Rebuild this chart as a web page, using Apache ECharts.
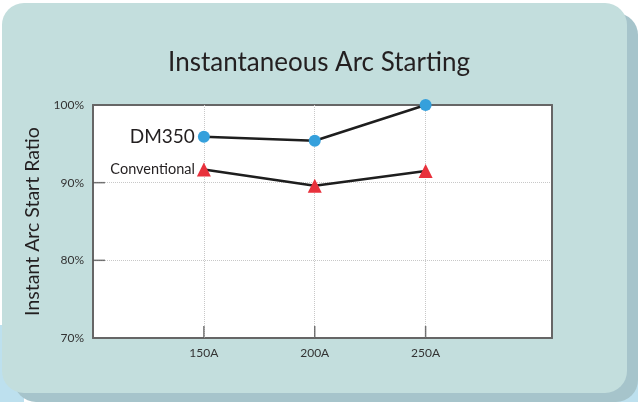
<!DOCTYPE html>
<html>
<head>
<meta charset="utf-8">
<script src="https://cdn.jsdelivr.net/npm/echarts@6/dist/echarts.min.js"></script>
<style>html,body{margin:0;padding:0;background:#fff}#c{width:638px;height:402px}</style>
</head>
<body>
<div id="c"></div>
<script>
const currents = [150, 200, 250];
const xTickLabels = ['150A', '200A', '250A'];
const dm350 = [95.9, 95.4, 100];
const conventional = [91.7, 89.6, 91.5];
const yTicks = [70, 80, 90, 100];
const xRange = [100, 307];

const chart = echarts.init(document.getElementById('c'), null, {renderer: 'canvas'});
const FONT = 'Lato';
function pts(vals) { return vals.map((v, i) => [currents[i], v]); }
const borderLine = {show: true, lineStyle: {color: '#666666', width: 2}};
const yMin = yTicks[0], yMax = yTicks[yTicks.length - 1];

chart.setOption({
  backgroundColor: '#ffffff',
  animation: false,
  graphic: [
    {type: 'rect', z: -10, shape: {x: 0, y: 325, width: 24, height: 77}, style: {fill: '#bde0ee'}},
    {type: 'rect', z: -10, shape: {x: 610, y: 380, width: 28, height: 22}, style: {fill: '#bde0ee'}},
    {type: 'rect', z: -9, shape: {x: 14, y: 13, width: 624, height: 389, r: 22}, style: {fill: '#a6c4cb'}},
    {type: 'rect', z: -8, shape: {x: 2, y: 3, width: 625, height: 390, r: 22}, style: {fill: '#c3dedd'}}
  ],
  title: {
    text: 'Instantaneous Arc Starting',
    left: 'center',
    top: 45,
    textStyle: {fontFamily: FONT, fontSize: 26, fontWeight: 'normal', color: '#231f20'}
  },
  grid: {left: 93, right: 86, top: 105, bottom: 64, show: false},
  xAxis: [{
    type: 'value', min: xRange[0], max: xRange[1],
    axisLine: borderLine,
    axisTick: {show: false},
    axisLabel: {
      customValues: currents, margin: 9, color: '#333', fontFamily: FONT, fontSize: 12,
      formatter: v => xTickLabels[currents.indexOf(v)] || ''
    },
    splitLine: {show: false}
  }, {
    type: 'value', min: xRange[0], max: xRange[1], position: 'top',
    axisLine: borderLine, axisTick: {show: false}, axisLabel: {show: false}, splitLine: {show: false}
  }],
  yAxis: [{
    type: 'value', min: yMin, max: yMax, interval: 10,
    name: 'Instant Arc Start Ratio', nameLocation: 'middle', nameGap: 44,
    nameTextStyle: {fontFamily: FONT, fontSize: 19.5, color: '#231f20'},
    axisLine: borderLine,
    axisTick: {show: false},
    axisLabel: {formatter: '{value}%', margin: 9, color: '#333', fontFamily: FONT, fontSize: 12},
    splitArea: {show: true, areaStyle: {color: ['#ffffff']}},
    splitLine: {show: true, showMinLine: false, showMaxLine: false, lineStyle: {color: '#c8c8c8', type: 'dotted', width: 1}}
  }, {
    type: 'value', min: yMin, max: yMax, interval: 10, position: 'right',
    axisLine: borderLine, axisTick: {show: false}, axisLabel: {show: false}, splitLine: {show: false}
  }],
  series: [
    {
      name: 'xTicks', type: 'scatter', silent: true, z: 3,
      data: currents.map(c => [c, yMin]),
      symbol: 'rect', symbolSize: [1.5, 12], symbolOffset: [0, -6],
      itemStyle: {color: '#555555'}
    },
    {
      name: 'yTicks', type: 'scatter', silent: true, z: 3,
      data: yTicks.slice(1, -1).map(v => [xRange[0], v]),
      symbol: 'rect', symbolSize: [12, 1.5], symbolOffset: [6, 0],
      itemStyle: {color: '#555555'}
    },
    {
      name: 'DM350', type: 'line', data: pts(dm350),
      symbol: 'circle', symbolSize: 12,
      itemStyle: {color: '#35a0dc'},
      lineStyle: {color: '#1e1e1e', width: 2.5},
      z: 5,
      label: {
        show: true, position: 'left', distance: 3,
        formatter: p => p.dataIndex === 0 ? p.seriesName : '',
        fontFamily: FONT, fontSize: 19, color: '#231f20'
      },
      markLine: {
        silent: true, symbol: 'none', label: {show: false}, z: 1,
        lineStyle: {color: '#c8c8c8', type: 'dotted', width: 1},
        data: currents.map(c => ({xAxis: c}))
      }
    },
    {
      name: 'Conventional', type: 'line', data: pts(conventional),
      symbol: 'triangle', symbolSize: 14,
      itemStyle: {color: '#e8313c'},
      lineStyle: {color: '#1e1e1e', width: 2.5},
      z: 5,
      label: {
        show: true, position: 'left', distance: 2,
        formatter: p => p.dataIndex === 0 ? p.seriesName : '',
        fontFamily: FONT, fontSize: 14.5, color: '#231f20'
      }
    }
  ]
});
</script>
</body>
</html>
